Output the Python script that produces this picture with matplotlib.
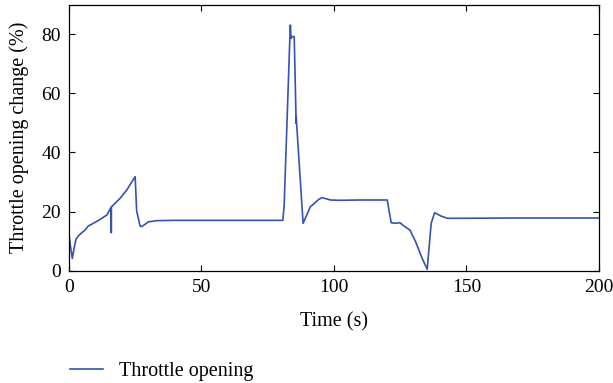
"""Throttle opening change over time."""

import matplotlib

matplotlib.use("Agg", force=True)
import matplotlib.pyplot as plt

# values
time_s = [
    0.0, 0.1, 0.5, 1.25, 2.0, 2.65, 3.5, 4.8, 6.05, 7.3, 9.2, 11.7, 14.25, 15.9,
    15.95, 16.0, 16.05, 17.4, 19.3, 21.8, 24.95, 25.3, 25.5, 25.6, 26.8, 27.5,
    30.0, 33.1, 40.0, 60.0, 80.7, 81.2, 83.4, 83.55, 83.8, 84.2, 85.0, 85.6,
    85.7, 85.75, 88.35, 91.1, 94.25, 95.5, 98.7, 102.3, 110.0, 120.1, 121.6,
    123.2, 124.9, 126.4, 128.7, 130.8, 133.3, 135.2, 136.7, 138.0, 140.3,
    142.8, 147.8, 170.0, 200.0,
]
throttle_pct = [
    0.0, 11.3, 8.5, 4.1, 8.0, 10.6, 11.7, 12.8, 13.7, 15.1, 16.0, 17.3, 18.8, 21.4,
    12.8, 21.4, 21.6, 22.8, 24.5, 27.3, 31.8, 25.0, 20.5, 19.9, 15.1, 14.9,
    16.5, 16.9, 17.0, 17.0, 17.0, 22.0, 80.0, 83.2, 78.7, 79.3, 79.3, 55.0,
    49.9, 52.0, 16.0, 21.6, 24.1, 24.7, 23.9, 23.8, 23.9, 23.9, 16.2,
    16.0, 16.2, 15.1, 13.7, 9.8, 4.1, 0.4, 16.0, 19.6, 18.5,
    17.7, 17.7, 17.8, 17.8,
]
x_ticks = [0, 50, 100, 150, 200]
y_ticks = [0, 20, 40, 60, 80]

plt.rcParams["font.family"] = ["Liberation Serif", "DejaVu Serif"]
plt.rcParams["font.size"] = 14

fig = plt.figure(figsize=(6.13, 3.83), dpi=100)
ax = fig.add_axes([0.1126, 0.2937, 0.8644, 0.6933])
ax.plot(time_s, throttle_pct, color="#3553b0", linewidth=1.2, label="Throttle opening")
ax.set_xlim(0, 200)
ax.set_ylim(0, 90)
ax.set_xticks(x_ticks)
ax.set_yticks(y_ticks)
ax.tick_params(direction="in", top=True, right=True, length=4, width=0.8,
               labelsize=14, pad=6)
for spine in ax.spines.values():
    spine.set_linewidth(0.9)
ax.set_xlabel("Time (s)", fontsize=14.5, labelpad=12)
ax.set_ylabel("Throttle opening change (%)", fontsize=14.5, labelpad=9)
fig.legend(loc="lower left", bbox_to_anchor=(0.085, -0.042), frameon=False, fontsize=14.5,
           handlelength=1.65, handletextpad=0.75)
fig.savefig("out.png", dpi=100)
plt.close(fig)
